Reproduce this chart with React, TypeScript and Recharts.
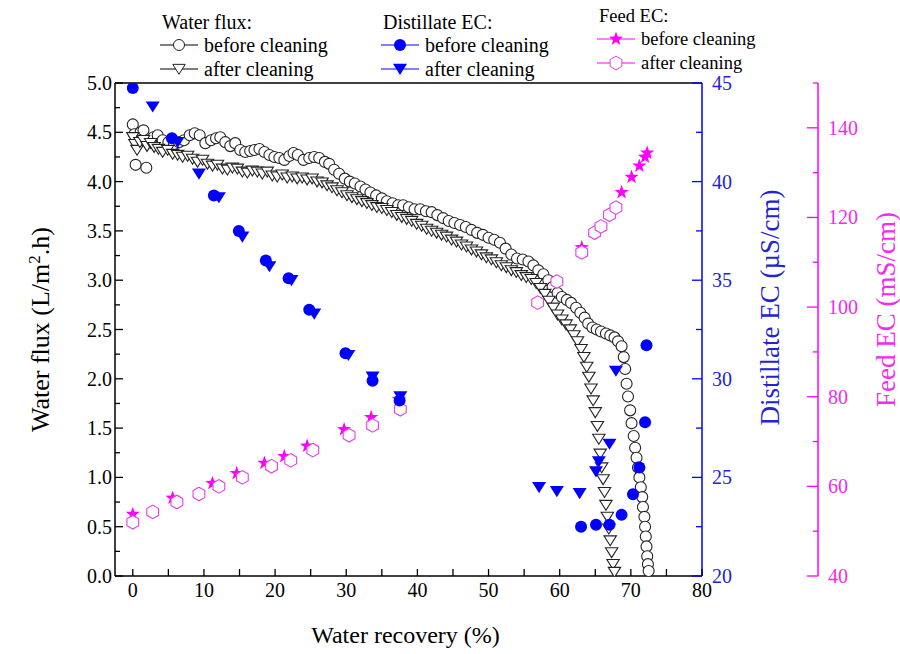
import React from 'react';
import { ScatterChart, Scatter, XAxis, YAxis, ReferenceLine } from 'recharts';

const W = 900;
const H = 654;
const SERIF = '"Liberation Serif", "DejaVu Serif", serif';
const BLUE = '#0000ff';
const BLUE_TXT = '#2323d2';
const PINK = '#ff00ff';
const PINK_TXT = '#f02cf0';
const txt = { fontFamily: SERIF };

// water recovery (%) vs water flux (L/m2.h), before cleaning
const fluxBefore: [number, number][] = [
  [0, 4.58], [0.2, 4.48], [0.4, 4.17], [0.7, 4.44], [1.1, 4.5], [1.5, 4.52], [1.9, 4.14], [2.3, 4.4],
  [2.9, 4.45], [3.5, 4.47], [4.2, 4.42], [5, 4.4], [5.8, 4.38], [6.5, 4.4], [7.2, 4.42], [8, 4.47],
  [8.7, 4.49], [9.4, 4.47], [10.2, 4.39], [11, 4.42], [11.7, 4.44], [12.3, 4.45], [13, 4.4], [13.7, 4.36],
  [14.4, 4.39], [15.1, 4.32], [15.8, 4.3], [16.5, 4.31], [17.1, 4.32], [17.8, 4.33], [18.5, 4.3], [19.2, 4.27],
  [19.9, 4.25], [20.6, 4.24], [21.3, 4.22], [22, 4.26], [22.6, 4.29], [23.2, 4.27], [24, 4.22], [24.8, 4.24],
  [25.5, 4.25], [26.2, 4.24], [27, 4.2], [27.6, 4.18], [28.3, 4.12], [29, 4.08], [29.8, 4.03], [30.5, 4],
  [31.2, 3.98], [32, 3.95], [32.7, 3.92], [33.4, 3.89], [34.2, 3.86], [35, 3.83], [35.7, 3.8], [36.5, 3.78],
  [37.3, 3.76], [38, 3.76], [38.8, 3.74], [39.6, 3.72], [40.4, 3.72], [41.2, 3.7], [42, 3.69], [42.8, 3.66],
  [43.6, 3.63], [44.4, 3.6], [45.2, 3.58], [46, 3.56], [46.8, 3.54], [47.6, 3.51], [48.4, 3.48], [49.2, 3.46],
  [50, 3.43], [50.8, 3.41], [51.6, 3.38], [52.4, 3.32], [53.2, 3.26], [54, 3.22], [54.8, 3.21], [55.6, 3.19],
  [56.3, 3.15], [57, 3.1], [57.7, 3.06], [58.4, 3], [59, 2.93], [59.7, 2.87], [60.3, 2.83], [61, 2.8],
  [61.6, 2.77], [62.3, 2.72], [62.9, 2.67], [63.5, 2.62], [64, 2.56], [64.6, 2.52], [65.2, 2.5], [65.8, 2.48],
  [66.5, 2.46], [67.1, 2.44], [67.7, 2.42], [68.2, 2.38], [68.7, 2.33], [69, 2.22], [69.2, 2.1], [69.4, 1.95],
  [69.6, 1.82], [69.9, 1.68], [70.1, 1.55], [70.4, 1.42], [70.6, 1.3], [70.8, 1.2], [71, 1.1], [71.2, 1],
  [71.4, 0.9], [71.6, 0.8], [71.7, 0.7], [71.9, 0.6], [72, 0.5], [72.1, 0.4], [72.2, 0.3], [72.3, 0.2],
  [72.4, 0.12], [72.5, 0.05],
];

// water flux after cleaning
const fluxAfter: [number, number][] = [
  [0, 4.45], [0.3, 4.38], [0.6, 4.32], [1, 4.4], [1.5, 4.42], [2, 4.36], [2.5, 4.39], [3, 4.35],
  [3.6, 4.33], [4.2, 4.3], [4.9, 4.32], [5.6, 4.28], [6.3, 4.27], [7, 4.25], [7.7, 4.26], [8.4, 4.23],
  [9.1, 4.2], [9.8, 4.22], [10.5, 4.18], [11.2, 4.16], [11.9, 4.17], [12.6, 4.13], [13.3, 4.12], [14, 4.14],
  [14.7, 4.13], [15.4, 4.1], [16.1, 4.09], [16.8, 4.11], [17.5, 4.1], [18.2, 4.08], [18.9, 4.1], [19.6, 4.06],
  [20.3, 4.05], [21, 4.07], [21.7, 4.04], [22.4, 4.05], [23.1, 4.03], [23.8, 4.04], [24.5, 4.02], [25.2, 4.03],
  [25.9, 4], [26.6, 3.99], [27.3, 3.96], [28, 3.94], [28.7, 3.91], [29.4, 3.89], [30.1, 3.86], [30.8, 3.84],
  [31.5, 3.82], [32.2, 3.8], [32.9, 3.78], [33.6, 3.76], [34.3, 3.74], [35, 3.73], [35.7, 3.71], [36.4, 3.69],
  [37.1, 3.66], [37.8, 3.64], [38.5, 3.62], [39.2, 3.6], [39.9, 3.57], [40.6, 3.55], [41.3, 3.52], [42, 3.5],
  [42.7, 3.48], [43.4, 3.46], [44.1, 3.44], [44.8, 3.41], [45.5, 3.39], [46.2, 3.36], [46.9, 3.34], [47.6, 3.31],
  [48.3, 3.29], [49, 3.26], [49.7, 3.23], [50.4, 3.21], [51.1, 3.18], [51.8, 3.15], [52.5, 3.13], [53.2, 3.1],
  [53.9, 3.08], [54.6, 3.05], [55.3, 3.03], [56, 3.01], [56.7, 2.97], [57.3, 2.92], [57.9, 2.86], [58.5, 2.79],
  [59.1, 2.72], [59.7, 2.65], [60.3, 2.6], [60.9, 2.55], [61.5, 2.5], [62, 2.44], [62.5, 2.38], [63, 2.3],
  [63.4, 2.22], [63.8, 2.12], [64.1, 2.02], [64.4, 1.9], [64.7, 1.78], [65, 1.66], [65.3, 1.52], [65.5, 1.39],
  [65.7, 1.24], [65.9, 1.1], [66.1, 0.98], [66.3, 0.85], [66.5, 0.72], [66.7, 0.6], [66.9, 0.48], [67.1, 0.36],
  [67.3, 0.24], [67.5, 0.12], [67.7, 0.04],
];

// distillate EC (uS/cm)
const distBefore: [number, number][] = [
  [0, 44.75], [5.5, 42.2], [11.4, 39.3], [14.9, 37.5], [18.7, 36.0], [21.9, 35.1], [24.8, 33.5], [29.9, 31.3],
  [33.7, 29.9], [37.5, 28.9], [63.0, 22.5], [65.1, 22.6], [67.0, 22.6], [68.7, 23.1], [70.3, 24.15], [71.2, 25.5],
  [72.0, 27.8], [72.2, 31.7],
];
const distAfter: [number, number][] = [
  [2.8, 43.8], [6.3, 42.0], [9.3, 40.4], [12.1, 39.2], [15.4, 37.2], [19.2, 35.7], [22.3, 35.0], [25.5, 33.3],
  [30.3, 31.2], [33.7, 30.1], [37.6, 29.1], [57.1, 24.5], [59.6, 24.3], [62.8, 24.2], [65.1, 25.3], [65.5, 25.8],
  [67.0, 26.7], [67.9, 30.4],
];

// feed EC (mS/cm)
const feedBefore: [number, number][] = [
  [0, 53.8], [5.6, 57.4], [11.2, 60.7], [14.6, 62.9], [18.5, 65.2], [21.3, 66.7], [24.5, 69.0], [29.7, 72.7],
  [33.5, 75.4], [37.4, 79.4], [63.1, 113.3], [68.7, 125.6], [70.1, 129.0], [71.2, 131.5], [72.0, 133.5], [72.3, 134.4],
];
const feedAfter: [number, number][] = [
  [0, 52.0], [2.8, 54.3], [6.2, 56.5], [9.3, 58.3], [12.1, 60.0], [15.4, 62.0], [19.5, 64.5], [22.2, 65.8],
  [25.3, 68.1], [30.4, 71.4], [33.7, 73.6], [37.6, 77.2], [56.9, 101.0], [59.6, 105.7], [63.1, 112.2], [64.9, 116.6],
  [65.8, 118.0], [67.0, 120.6], [67.9, 122.2],
];

const xTicks = [0, 5, 10, 15, 20, 25, 30, 35, 40, 45, 50, 55, 60, 65, 70, 75, 80];
const fluxTicks = [0, 0.25, 0.5, 0.75, 1, 1.25, 1.5, 1.75, 2, 2.25, 2.5, 2.75, 3, 3.25, 3.5, 3.75, 4, 4.25, 4.5, 4.75, 5];
const distTicks = [20, 22.5, 25, 27.5, 30, 32.5, 35, 37.5, 40, 42.5, 45];
const feedTicks = [40, 50, 60, 70, 80, 90, 100, 110, 120, 130, 140, 150];

const toPts = (arr: [number, number][]) => arr.map(([x, y]) => ({ x, y }));

// ---- markers ----
const OpenCircle = (p: any) => <circle cx={p.cx} cy={p.cy} r={5.5} fill="#fff" stroke="#222" strokeWidth={1.1} />;

const triPath = (cx: number, cy: number, s: number) =>
  `M${cx - s},${cy - s * 0.75}L${cx + s},${cy - s * 0.75}L${cx},${cy + s * 0.85}Z`;

const OpenTri = (p: any) => <path d={triPath(p.cx, p.cy, 6.2)} fill="#fff" stroke="#222" strokeWidth={1.1} />;
const BlueDot = (p: any) => <circle cx={p.cx} cy={p.cy} r={6} fill={BLUE} />;
const BlueTri = (p: any) => <path d={triPath(p.cx, p.cy, 7)} fill={BLUE} />;

const starPath = (cx: number, cy: number, ro: number, ri: number) => {
  let d = '';
  for (let i = 0; i < 10; i++) {
    const r = i % 2 === 0 ? ro : ri;
    const a = -Math.PI / 2 + (i * Math.PI) / 5;
    d += `${i === 0 ? 'M' : 'L'}${cx + r * Math.cos(a)},${cy + r * Math.sin(a)}`;
  }
  return d + 'Z';
};
const hexPath = (cx: number, cy: number, r: number) => {
  let d = '';
  for (let i = 0; i < 6; i++) {
    const a = -Math.PI / 2 + (i * Math.PI) / 3;
    d += `${i === 0 ? 'M' : 'L'}${cx + r * Math.cos(a)},${cy + r * Math.sin(a)}`;
  }
  return d + 'Z';
};
const PinkStar = (p: any) => <path d={starPath(p.cx, p.cy, 7.5, 3)} fill={PINK} />;
const PinkHex = (p: any) => <path d={hexPath(p.cx, p.cy, 6.8)} fill="#fff" stroke="#e63ee6" strokeWidth={1.1} />;

// ---- ticks ----
const XTick = (p: any) => {
  const v = p.payload.value;
  return (
    <g>
      <line x1={p.x} x2={p.x} y1={p.y} y2={p.y - 7} stroke="#000" strokeWidth={1.3} />
      {v % 10 === 0 && (
        <text x={p.x} y={p.y + 21} textAnchor="middle" fontSize={20} style={txt} fill="#000">{v}</text>
      )}
    </g>
  );
};

const FluxTick = (p: any) => {
  const v = p.payload.value;
  const major = Math.abs(v * 2 - Math.round(v * 2)) < 1e-6;
  return (
    <g>
      <line x1={p.x} x2={p.x + (major ? 8 : 5)} y1={p.y} y2={p.y} stroke="#000" strokeWidth={1.3} />
      {major && (
        <text x={p.x - 3} y={p.y} dy="0.35em" textAnchor="end" fontSize={20} style={txt} fill="#000">
          {v.toFixed(1)}
        </text>
      )}
    </g>
  );
};

const DistTick = (p: any) => {
  const v = p.payload.value;
  const major = v % 5 === 0;
  return (
    <g>
      <line x1={p.x} x2={p.x - (major ? 10 : 6)} y1={p.y} y2={p.y} stroke={BLUE} strokeWidth={1.3} />
      {major && (
        <text x={p.x + 10} y={p.y} dy="0.35em" textAnchor="start" fontSize={20} style={txt} fill={BLUE_TXT}>{v}</text>
      )}
    </g>
  );
};

const FeedTick = (p: any) => {
  const v = p.payload.value;
  const major = v % 20 === 0;
  return (
    <g>
      <line x1={p.x} x2={p.x - (major ? 11 : 5)} y1={p.y} y2={p.y} stroke={PINK} strokeWidth={1.3} />
      {major && (
        <text x={p.x + 10} y={p.y} dy="0.35em" textAnchor="start" fontSize={20} style={txt} fill={PINK_TXT}>{v}</text>
      )}
    </g>
  );
};

// ---- axis titles ----
const xTitle = ({ viewBox }: any) => (
  <text x={viewBox.x + viewBox.width / 2 - 3} y={viewBox.y + 67} textAnchor="middle" fontSize={24} style={txt} fill="#000">
    Water recovery (%)
  </text>
);
const fluxTitle = ({ viewBox }: any) => (
  <text transform={`translate(${viewBox.x + 40},${viewBox.y + viewBox.height / 2}) rotate(-90)`} textAnchor="middle"
    dy="0.35em" fontSize={26} style={txt} fill="#000">
    Water flux (L/m<tspan dy={-9} fontSize={17}>2</tspan><tspan dy={9}>.h)</tspan>
  </text>
);
const distTitle = ({ viewBox }: any) => (
  <text transform={`translate(${viewBox.x + 68},${viewBox.y + viewBox.height / 2 - 22}) rotate(-90)`} textAnchor="middle"
    dy="0.35em" fontSize={27} style={txt} fill={BLUE_TXT}>
    Distillate EC (µS/cm)
  </text>
);
const feedTitle = ({ viewBox }: any) => (
  <text transform={`translate(${viewBox.x + 68},${viewBox.y + viewBox.height / 2 - 20}) rotate(-90)`} textAnchor="middle"
    dy="0.35em" fontSize={27} style={txt} fill={PINK_TXT}>
    Feed EC (mS/cm)
  </text>
);

// ---- legend ----
const LegendGroup = ({ x, y, title, color, m1, m2, size }: any) => (
  <g style={txt} fontSize={size}>
    <text x={x + 2} y={y} dy="0.35em" fill="#000">{title}</text>
    <line x1={x} x2={x + 38} y1={y + 23} y2={y + 23} stroke={color} strokeWidth={1.2} />
    {m1(x + 19, y + 23)}
    <text x={x + 44} y={y + 23} dy="0.35em" fill="#000">before cleaning</text>
    <line x1={x} x2={x + 38} y1={y + 47} y2={y + 47} stroke={color} strokeWidth={1.2} />
    {m2(x + 19, y + 47)}
    <text x={x + 44} y={y + 47} dy="0.35em" fill="#000">after cleaning</text>
  </g>
);

export default function App() {
  return (
    <div style={{ position: 'absolute', left: 0, top: 0, width: W, height: H, background: '#fff', fontFamily: SERIF }}>
      <ScatterChart width={W} height={H} margin={{ top: 83, right: 0, bottom: 0, left: 0 }} style={txt}>
        <XAxis
          type="number" dataKey="x" domain={[-2.5, 80]} ticks={xTicks} interval={0} allowDataOverflow
          height={78} tickLine={false} tickSize={0} tickMargin={0}
          axisLine={{ stroke: '#000', strokeWidth: 1.5 }} tick={<XTick />} label={xTitle}
        />
        <YAxis
          yAxisId="flux" type="number" dataKey="y" domain={[0, 5]} ticks={fluxTicks} interval={0} allowDataOverflow
          width={115} tickLine={false} tickSize={0} tickMargin={0}
          axisLine={{ stroke: '#000', strokeWidth: 1.5 }} tick={<FluxTick />} label={fluxTitle}
        />
        <YAxis
          yAxisId="dist" orientation="right" type="number" dataKey="y" domain={[20, 45]} ticks={distTicks} interval={0}
          allowDataOverflow width={116} tickLine={false} tickSize={0} tickMargin={0}
          axisLine={{ stroke: BLUE, strokeWidth: 1.5 }} tick={<DistTick />} label={distTitle}
        />
        <YAxis
          yAxisId="feed" orientation="right" type="number" dataKey="y" domain={[40, 150]} ticks={feedTicks} interval={0}
          allowDataOverflow width={82} tickLine={false} tickSize={0} tickMargin={0}
          axisLine={{ stroke: PINK, strokeWidth: 1.5 }} tick={<FeedTick />} label={feedTitle}
        />
        <ReferenceLine yAxisId="flux" y={5} stroke="#000" strokeWidth={1.5} />

        <Scatter yAxisId="flux" data={toPts(fluxBefore)} shape={OpenCircle} isAnimationActive={false} />
        <Scatter yAxisId="flux" data={toPts(fluxAfter)} shape={OpenTri} isAnimationActive={false} />
        <Scatter yAxisId="feed" data={toPts(feedBefore)} shape={PinkStar} isAnimationActive={false} />
        <Scatter yAxisId="feed" data={toPts(feedAfter)} shape={PinkHex} isAnimationActive={false} />
        <Scatter yAxisId="dist" data={toPts(distBefore)} shape={BlueDot} isAnimationActive={false} />
        <Scatter yAxisId="dist" data={toPts(distAfter)} shape={BlueTri} isAnimationActive={false} />
      </ScatterChart>

      <svg width={W} height={82} style={{ position: 'absolute', left: 0, top: 0, pointerEvents: 'none' }}>
        <LegendGroup
          x={160} y={22} size={20} title="Water flux:" color="#000"
          m1={(cx: number, cy: number) => <circle cx={cx} cy={cy} r={5.5} fill="#fff" stroke="#222" />}
          m2={(cx: number, cy: number) => <path d={triPath(cx, cy, 6.2)} fill="#fff" stroke="#222" />}
        />
        <LegendGroup
          x={381} y={22} size={20} title="Distillate EC:" color={BLUE}
          m1={(cx: number, cy: number) => <circle cx={cx} cy={cy} r={6} fill={BLUE} />}
          m2={(cx: number, cy: number) => <path d={triPath(cx, cy, 7)} fill={BLUE} />}
        />
        <LegendGroup
          x={597} y={16} size={18.5} title="Feed EC:" color={PINK}
          m1={(cx: number, cy: number) => <path d={starPath(cx, cy, 7.5, 3)} fill={PINK} />}
          m2={(cx: number, cy: number) => <path d={hexPath(cx, cy, 6.8)} fill="#fff" stroke="#e63ee6" />}
        />
      </svg>
    </div>
  );
}
